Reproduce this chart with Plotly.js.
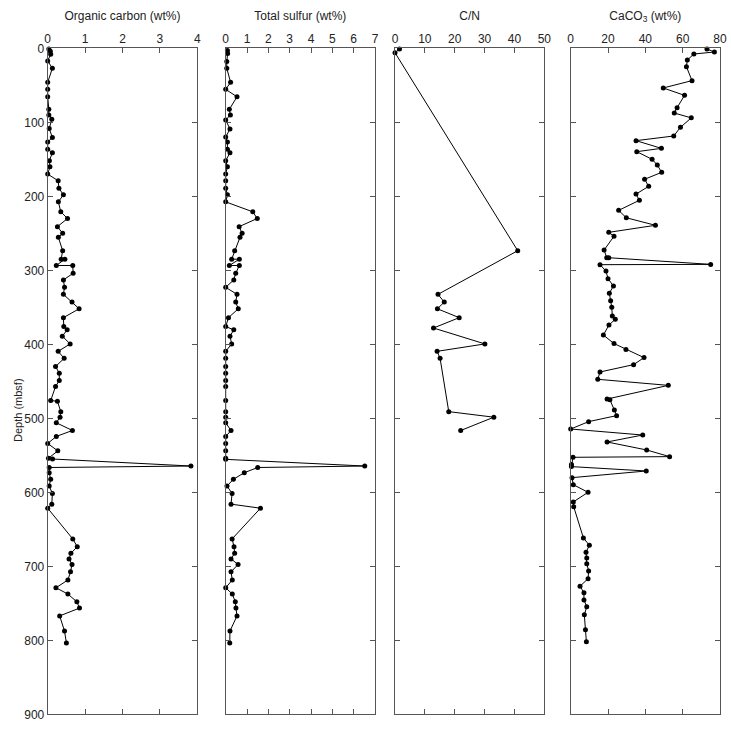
<!DOCTYPE html>
<html>
<head>
<meta charset="utf-8">
<script src="https://cdn.plot.ly/plotly-3.0.1.min.js"></script>
<style>html,body{margin:0;padding:0;background:#fff;}#chart{width:731px;height:731px;}</style>
</head>
<body>
<div id="chart"></div>
<script>
// Organic carbon (wt%)
const ocDepth = [1, 4, 8, 17, 27, 46, 55.5, 65.5, 82.5, 90, 96, 108.5, 120.5, 126.5, 136.5, 141, 152, 160, 170, 179, 189, 198, 207.5, 221, 230, 241, 250, 255.5, 273.5, 285, 285, 293.5, 293.5, 304, 313, 323, 332.5, 343, 352, 364, 376, 380.5, 389, 399.5, 409.5, 419, 430, 439, 449, 457, 476, 477, 491, 498.5, 506, 516.5, 524.5, 534, 544, 554, 555, 564.5, 566.5, 573.5, 582.5, 591.5, 601.5, 616, 621.5, 663, 673.5, 682.5, 690, 697.5, 707.5, 718.5, 729, 737.5, 748, 756.5, 767, 787.5, 803.5];
const ocValue = [0.03, 0.07, 0.08, 0, 0.125, 0, 0, 0, 0.03, 0.03, 0.11, 0.04, 0.125, 0, 0, 0.125, 0.045, 0.06, 0, 0.28, 0.30, 0.42, 0.285, 0.35, 0.53, 0.26, 0.40, 0.285, 0.40, 0.36, 0.46, 0.23, 0.67, 0.68, 0.42, 0.45, 0.42, 0.65, 0.84, 0.42, 0.43, 0.52, 0.39, 0.6, 0.28, 0.44, 0.21, 0.31, 0.31, 0.21, 0.08, 0.26, 0.35, 0.33, 0.23, 0.66, 0.23, 0, 0.27, 0.02, 0.13, 3.83, 0.04, 0.04, 0.08, 0.04, 0.125, 0.11, 0, 0.67, 0.79, 0.62, 0.57, 0.65, 0.61, 0.54, 0.22, 0.54, 0.78, 0.85, 0.32, 0.45, 0.50];

// Total sulfur (wt%)
const sDepth = [3, 7, 18, 27, 46, 55.5, 65.5, 82.5, 90, 97, 109, 120, 126.5, 136.5, 141, 152, 160, 170, 179, 189, 198, 207.5, 221, 230, 241, 250, 255.5, 273.5, 285, 285, 293.5, 293.5, 304, 313, 323, 332.5, 343, 352, 364, 376, 380.5, 389, 399.5, 409.5, 419, 430, 439, 449, 457, 476, 491, 498.5, 506, 516.5, 524.5, 534, 544, 554, 555.5, 564.5, 566.5, 573.5, 582.5, 591.5, 601.5, 616, 621.5, 663, 673.5, 682.5, 690, 697.5, 707.5, 718.5, 729, 737.5, 748, 756.5, 767, 787.5, 803.5];
const sValue = [0.08, 0.09, 0.05, 0.05, 0.23, 0, 0.53, 0.17, 0.22, 0, 0.2, 0, 0.08, 0.08, 0.2, 0, 0.08, 0, 0, 0, 0.08, 0, 1.27, 1.48, 0.63, 0.77, 0.67, 0.42, 0.28, 0.64, 0.17, 0.64, 0.47, 0.38, 0, 0.53, 0.47, 0.59, 0.13, 0, 0.38, 0.2, 0.28, 0, 0, 0, 0, 0, 0, 0, 0, 0, 0, 0.25, 0, 0, 0, 0, 0, 6.52, 1.5, 0.87, 0.36, 0.06, 0.3, 0.25, 1.63, 0.3, 0.39, 0.42, 0.25, 0.58, 0.25, 0.31, 0, 0.31, 0.45, 0.48, 0.53, 0.2, 0.19];

// C/N
const cnDepth = [1, 6, 273.5, 332.5, 343, 352, 364, 378, 399.5, 409.5, 419, 491, 498.5, 516.5];
const cnValue = [1.5, 0, 41.1, 14.4, 16.5, 14.2, 21.5, 12.9, 30.1, 14.1, 15.1, 18, 33.1, 22];

// CaCO3 (wt%)
const caDepth = [1, 5, 7.7, 15.8, 24.8, 43.7, 53.6, 63.6, 80.3, 87.5, 94, 106.8, 118.5, 124.8, 135.2, 139.7, 150, 157.7, 167.6, 177, 186.5, 197, 205.4, 219, 229, 239.2, 248.7, 254, 272.6, 283, 283, 292, 292.4, 301, 311.3, 321.2, 331, 341, 350, 361.8, 366, 374, 387.5, 399, 407, 418, 427.5, 437.4, 447.3, 455.5, 474, 475, 488.8, 496.4, 504.5, 514.5, 522.6, 532, 542.8, 551.8, 552.7, 562.6, 565.3, 571.2, 580.2, 589.7, 600, 613, 619.4, 661.6, 671.6, 681, 688.8, 696.4, 706.3, 716.7, 727, 735.6, 745.6, 754.6, 765.5, 785.7, 801.9];
const caValue = [73, 77, 66, 62.5, 62, 65, 49.6, 61, 57, 55.5, 64.6, 58.8, 55.2, 35, 48.6, 35.4, 43.6, 46.4, 48.75, 39.6, 41.8, 35, 36.8, 25.7, 29.8, 45.4, 20.4, 23.2, 17.9, 19.3, 20.4, 75, 15.7, 18.9, 20, 22.9, 20.7, 21.4, 22, 22.3, 23.9, 20.5, 17.5, 23.2, 29.6, 39.3, 33.7, 15.7, 14.5, 52.3, 19.5, 21, 23.4, 24.6, 9.6, 0, 38.6, 19.5, 40.7, 53, 1.25, 0.4, 0.4, 40.5, 0.7, 1.4, 9.3, 1.4, 1.6, 6.8, 10, 8.2, 8.6, 8.6, 9.6, 9.3, 5, 7.1, 7.1, 8.6, 7.3, 7.9, 8.4];

const panelTitles = ['Organic carbon (wt%)', 'Total sulfur (wt%)', 'C/N', 'CaCO<sub>3</sub> (wt%)'];
const xRanges = [[0, 4], [0, 7], [0, 50], [0, 80]];
const xDticks = [1, 1, 10, 20];
const depthTicks = [0, 100, 200, 300, 400, 500, 600, 700, 800, 900];

const W = 731, H = 731;
const xPix = [[47.7, 197.3], [225.7, 375], [395, 544.3], [570.7, 720]];
const yTop = 48.3, yBot = 714.3;
const yDomain = [1 - yBot / H, 1 - yTop / H];

const fontFam = 'Liberation Sans, Arial, Helvetica, sans-serif';
const lineCol = '#555';

const series = [[ocValue, ocDepth], [sValue, sDepth], [cnValue, cnDepth], [caValue, caDepth]];
const traces = series.map((s, i) => ({
  x: s[0], y: s[1],
  xaxis: i === 0 ? 'x' : 'x' + (i + 1),
  yaxis: i === 0 ? 'y' : 'y' + (i + 1),
  type: 'scatter', mode: 'lines+markers',
  line: {color: '#000', width: 1},
  marker: {color: '#000', size: 5},
  cliponaxis: false,
  showlegend: false,
  hoverinfo: 'x+y'
}));

const layout = {
  width: W, height: H,
  margin: {l: 0, r: 0, t: 0, b: 0},
  paper_bgcolor: '#fff', plot_bgcolor: '#fff',
  font: {family: fontFam, size: 12, color: '#222'},
  showlegend: false,
  annotations: [{
    text: 'Depth (mbsf)', xref: 'paper', yref: 'paper',
    x: 10 / W, y: 1 - 410 / H, textangle: -90, showarrow: false,
    font: {family: fontFam, size: 11, color: '#222'}
  }]
};

for (let i = 0; i < 4; i++) {
  const sfx = i === 0 ? '' : String(i + 1);
  layout['xaxis' + sfx] = {
    domain: [xPix[i][0] / W, xPix[i][1] / W],
    range: xRanges[i], dtick: xDticks[i], tick0: 0,
    side: 'top', anchor: 'y' + sfx,
    ticks: 'inside', ticklen: 5, tickcolor: lineCol,
    showline: true, linecolor: lineCol, linewidth: 1, mirror: 'ticks',
    showgrid: false, zeroline: false,
    tickfont: {family: fontFam, size: 12, color: '#222'},
    title: {text: panelTitles[i], font: {family: fontFam, size: 12, color: '#222'}, standoff: 8}
  };
  layout['yaxis' + sfx] = {
    domain: yDomain,
    range: [900, 0], tickvals: depthTicks, ticktext: depthTicks.map(String),
    anchor: 'x' + sfx,
    ticks: 'inside', ticklen: 5, tickcolor: lineCol,
    showline: true, linecolor: lineCol, linewidth: 1, mirror: 'ticks',
    showgrid: false, zeroline: false,
    showticklabels: i === 0,
    tickfont: {family: fontFam, size: 12, color: '#222'}
  };
}

Plotly.newPlot('chart', traces, layout, {displayModeBar: false, staticPlot: true});
</script>
</body>
</html>
